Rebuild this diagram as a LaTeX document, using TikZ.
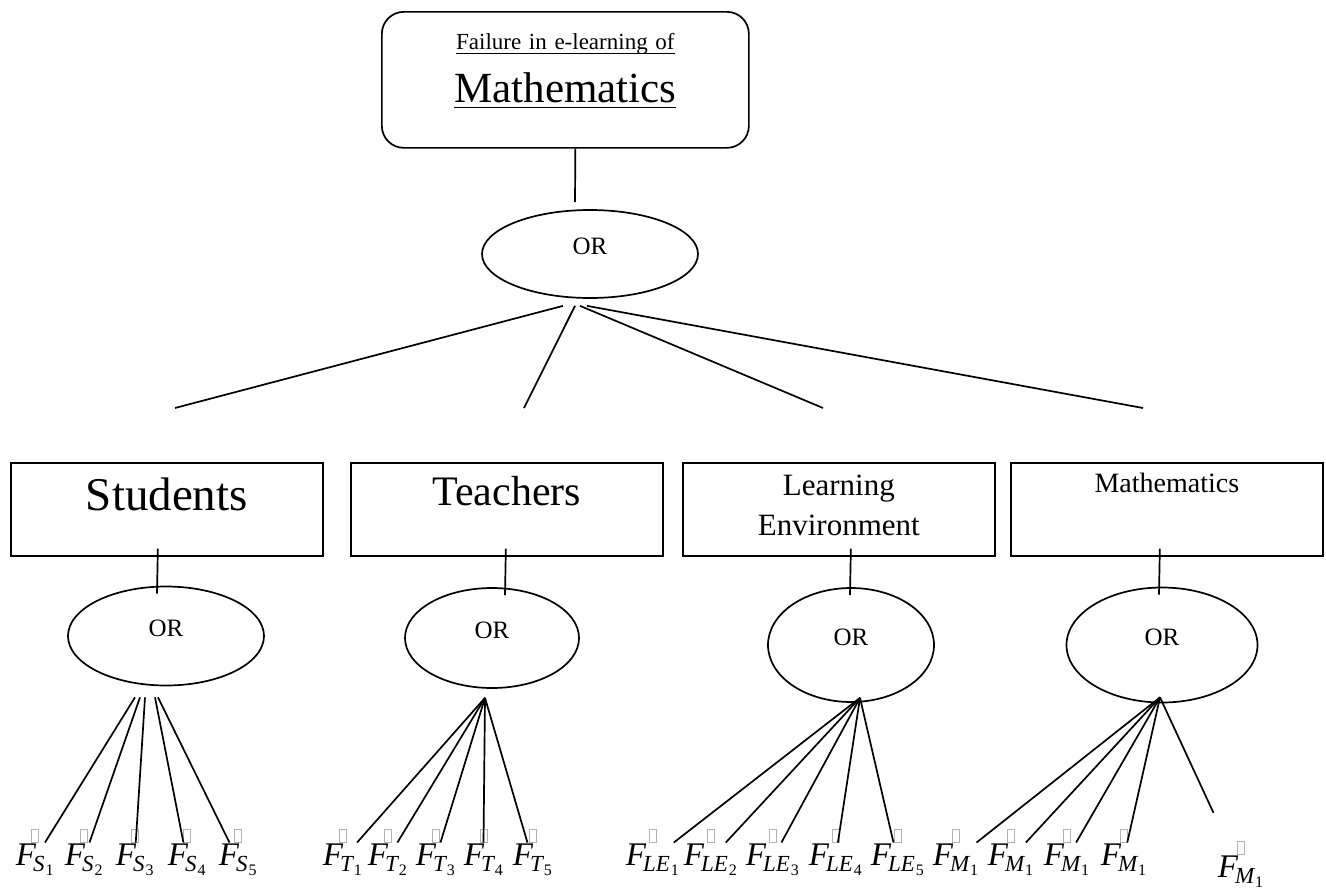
\documentclass[tikz,border=0pt]{standalone}
\usepackage{fontspec}
\setmainfont{Liberation Serif}
\usetikzlibrary{shapes.geometric}

\newsavebox{\undlbox}
\newcommand{\undl}[2]{\leavevmode\sbox{\undlbox}{#2}\hbox{\usebox{\undlbox}\kern-\wd\undlbox\rule[-#1]{\wd\undlbox}{1.3pt}}}
\newcommand{\Fsub}[2]{{\fontsize{33}{33}\selectfont\itshape F}\kern-3pt\raisebox{-6pt}{\fontsize{23}{23}\selectfont\itshape #1\kern1pt\raisebox{-4pt}{\fontsize{16}{16}\selectfont\upshape #2}}}

\begin{document}
\begin{tikzpicture}[x=1pt,y=-1pt,line width=1.7pt,
  catbox/.style={draw,rectangle,inner sep=0pt,text width=312pt,align=center,anchor=north west},
  orgate/.style={draw,ellipse,inner sep=0pt,font=\fontsize{25}{25}\selectfont,text depth=16pt},
  leaf/.style={inner sep=0pt,anchor=base west,label distance=6pt,
    label={[draw=gray!60,line width=0.6pt,minimum width=7pt,minimum height=13pt,inner sep=0pt]above:{}}}]
  \useasboundingbox (0,0) rectangle (1326,892);

  \node[draw,rounded corners=22pt,inner sep=0pt,text width=367pt,align=center,
    text height=38pt,text depth=98pt,anchor=north west,font=\fontsize{23}{53}\selectfont]
    (goal) at (381,11) {\undl{4pt}{Failure in e-learning of}\\\fontsize{43}{53}\selectfont\undl{5pt}{Mathematics}};
  \node[orgate,minimum width=216pt,minimum height=88pt] (ortop) at (590,254) {OR};

  \coordinate (toS) at (175,408);
  \coordinate (toT) at (524,408);
  \coordinate (toLE) at (823,408);
  \coordinate (toM) at (1143,408);

  \node[catbox,font=\fontsize{47}{47}\selectfont,text height=48pt,text depth=45pt] (stud) at (10,462) {Students};
  \node[catbox,font=\fontsize{42}{42}\selectfont,text height=43pt,text depth=50pt] (teach) at (350,462) {Teachers};
  \node[catbox,font=\fontsize{31}{40}\selectfont,text height=33pt,text depth=60pt] (env) at (682,462) {Learning\\Environment};
  \node[catbox,font=\fontsize{28}{28}\selectfont,text height=30pt,text depth=63pt] (maths) at (1010,462) {Mathematics};

  \node[orgate,minimum width=196pt,minimum height=99pt] (orS) at (166,636) {OR};
  \node[orgate,minimum width=174pt,minimum height=100pt] (orT) at (492,638) {OR};
  \node[orgate,minimum width=166pt,minimum height=114pt] (orLE) at (851,645) {OR};
  \node[orgate,minimum width=191pt,minimum height=115pt] (orM) at (1162,645) {OR};

  % leaves
  \foreach \i/\x in {1/15,2/64,3/115,4/167,5/218}
    \node[leaf] (s\i) at (\x,865) {\Fsub{S}{\i}};
  \foreach \i/\x in {1/322,2/367,3/415,4/463,5/512}
    \node[leaf] (t\i) at (\x,865) {\Fsub{T}{\i}};
  \foreach \i/\x in {1/625,2/683,3/745,4/808,5/870}
    \node[leaf] (le\i) at (\x,865) {\Fsub{LE}{\i}};
  \foreach \i/\x in {1/932,2/987,3/1043,4/1100}
    \node[leaf] (m\i) at (\x,865) {\Fsub{M}{1}};
  \node[leaf] (m5) at (1217,877) {\Fsub{M}{1}};

  \draw ([xshift=10pt]goal.south) -- ([xshift=-15pt,yshift=7pt]ortop.north);
  \foreach \c/\dx in {toS/-27,toT/-15,toLE/-10,toM/-3}
    \draw ([shift={(\dx,7)}]ortop.south) -- (\c);

  \draw ([xshift=-9pt,yshift=8pt]stud.south) -- ([xshift=-9pt,yshift=-8pt]orS.north);
  \draw ([xshift=-1pt,yshift=8pt]teach.south) -- ([xshift=13pt,yshift=-8pt]orT.north);
  \draw ([xshift=12pt,yshift=8pt]env.south) -- ([xshift=-1pt,yshift=-8pt]orLE.north);
  \draw ([xshift=-7pt,yshift=8pt]maths.south) -- ([xshift=-3pt,yshift=-8pt]orM.north);

  \foreach \i/\dx in {1/-31,2/-26,3/-21,4/-11,5/-8}
    \draw ([shift={(\dx,11)}]orS.south) -- (s\i);
  \coordinate (apT) at ([shift={(-7,9)}]orT.south);
  \coordinate (apLE) at ([shift={(9,-5)}]orLE.south);
  \coordinate (apM) at ([shift={(-2,-6)}]orM.south);
  \foreach \i in {1,...,5} {
    \draw (apT) -- (t\i);
    \draw (apLE) -- (le\i);
  }
  \foreach \i in {1,...,4}
    \draw (apM) -- (m\i);
  \draw[shorten >=46pt] (apM) -- (m5);
\end{tikzpicture}
\end{document}
